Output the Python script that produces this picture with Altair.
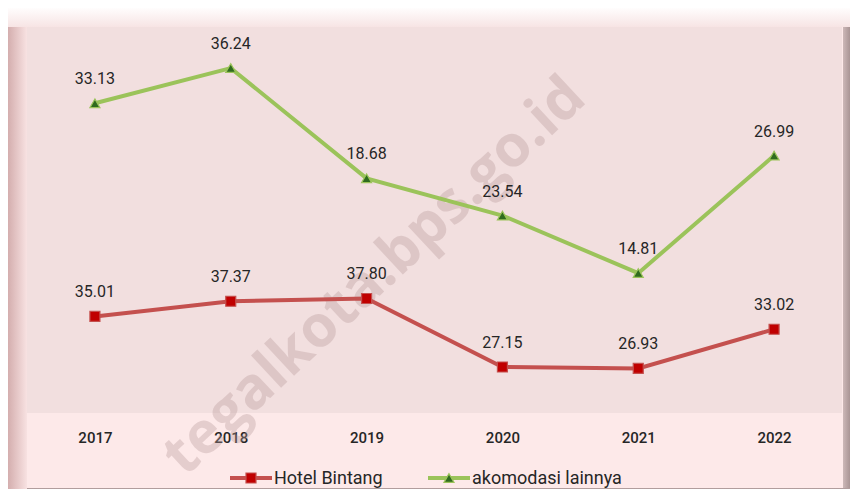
import altair as alt
import pandas as pd

years = ["2017", "2018", "2019", "2020", "2021", "2022"]
hotel_bintang = [35.01, 37.37, 37.80, 27.15, 26.93, 33.02]
akomodasi_lainnya = [33.13, 36.24, 18.68, 23.54, 14.81, 26.99]
series_names = ["Hotel Bintang", "akomodasi lainnya"]
line_colors = ["#c4504e", "#9bc35a"]
marker_colors = ["#c00000", "#2f6b1e"]
marker_shapes = ["square", "triangle-up"]

rows = []
for i, yr in enumerate(years):
    rows.append({"year": yr, "series": series_names[0], "value": hotel_bintang[i],
                 "top": hotel_bintang[i]})
    rows.append({"year": yr, "series": series_names[1], "value": akomodasi_lainnya[i],
                 "top": hotel_bintang[i] + akomodasi_lainnya[i]})
df = pd.DataFrame(rows)

W, H = 815, 386

x_enc = alt.X("year:N", sort=years,
              scale=alt.Scale(type="point", padding=0.5),
              axis=alt.Axis(title=None, labelAngle=0, ticks=False, domain=False, grid=False,
                            labelPadding=17, labelFontSize=15, labelColor="#262626",
                            labelFont="Roboto", labelFontWeight=500))
y_enc = alt.Y("top:Q", scale=alt.Scale(domain=[20, 80], nice=False, zero=False), axis=None)

base = alt.Chart(df)

lines = base.mark_line(strokeWidth=4).encode(
    x=x_enc, y=y_enc,
    stroke=alt.Stroke("series:N", scale=alt.Scale(domain=series_names, range=line_colors), legend=None),
    detail="series:N",
)


def series_points(i):
    return base.transform_filter(alt.datum.series == series_names[i]).mark_point(
        filled=True, shape=marker_shapes[i], size=100, fill=marker_colors[i],
        stroke=line_colors[i], strokeWidth=1.2, opacity=1).encode(x=x_enc, y=y_enc)


labels = base.mark_text(fontSize=16, font="Roboto", color="#262626", dy=-24).encode(
    x=x_enc, y=y_enc, text=alt.Text("value:Q", format=".2f")
)

# ---- legend (drawn by hand, below the axis) ----
one = pd.DataFrame({"k": [0]})
LEG_Y = 451
leg_x = [203, 401]   # left end of each legend symbol (plot coordinates)
legend_layers = []
for i, name in enumerate(series_names):
    x0 = leg_x[i]
    legend_layers.append(alt.Chart(one).mark_rule(strokeWidth=4, color=line_colors[i]).encode(
        x=alt.value(x0), x2=alt.value(x0 + 42), y=alt.value(LEG_Y)))
    legend_layers.append(alt.Chart(one).mark_point(
        filled=True, shape=marker_shapes[i], size=100, fill=marker_colors[i],
        stroke=line_colors[i], strokeWidth=1.2, opacity=1).encode(
        x=alt.value(x0 + 21), y=alt.value(LEG_Y)))
    legend_layers.append(alt.Chart(pd.DataFrame({"t": [name]})).mark_text(
        align="left", baseline="middle", fontSize=18, font="Roboto", color="#262626").encode(
        x=alt.value(x0 + 44), y=alt.value(LEG_Y + 1), text="t:N"))


def band(x1, x2, y1, y2, c1, c2, vertical=True):
    grad = alt.Gradient(gradient="linear",
                        stops=[alt.GradientStop(color=c1, offset=0), alt.GradientStop(color=c2, offset=1)],
                        x1=0, y1=0, x2=0 if vertical else 1, y2=1 if vertical else 0)
    return alt.Chart(one).mark_rect(color=grad, clip=False).encode(
        x=alt.value(x1), x2=alt.value(x2), y=alt.value(y1), y2=alt.value(y2))


bevel_top = band(-19, 826, -19, 0, "#fffdfd", "#f7e4e4")
bevel_left = band(-19, 0, 0, 464, "#d4aeae", "#f8e2e2", vertical=False)
bevel_right = band(816, 826, 0, 464, "#cdb8b8", "#9a8686", vertical=False)
bevel_bottom = band(0, 826, 461, 464, "#b8a4a4", "#8f7b7b")

watermark = alt.Chart(pd.DataFrame({"t": ["tegalkota.bps.go.id"]})).mark_text(
    font="Open Sans", fontWeight="bold", fontSize=58, angle=317, color="#b89a9a", opacity=0.35
).encode(x=alt.value(348), y=alt.value(250), text="t:N")

chart = alt.layer(
    bevel_top, bevel_left, bevel_right, bevel_bottom, watermark, lines,
    series_points(0), series_points(1), labels, *legend_layers
).properties(
    width=W, height=H,
    autosize=alt.AutoSizeParams(type="none"),
    padding={"left": 19, "top": 19, "right": 8, "bottom": 76},
    background="#fde9e9",
).configure_view(fill="#f2dfdf", strokeWidth=0)

chart.save("out.html", embed_options={"renderer": "svg", "actions": False})
